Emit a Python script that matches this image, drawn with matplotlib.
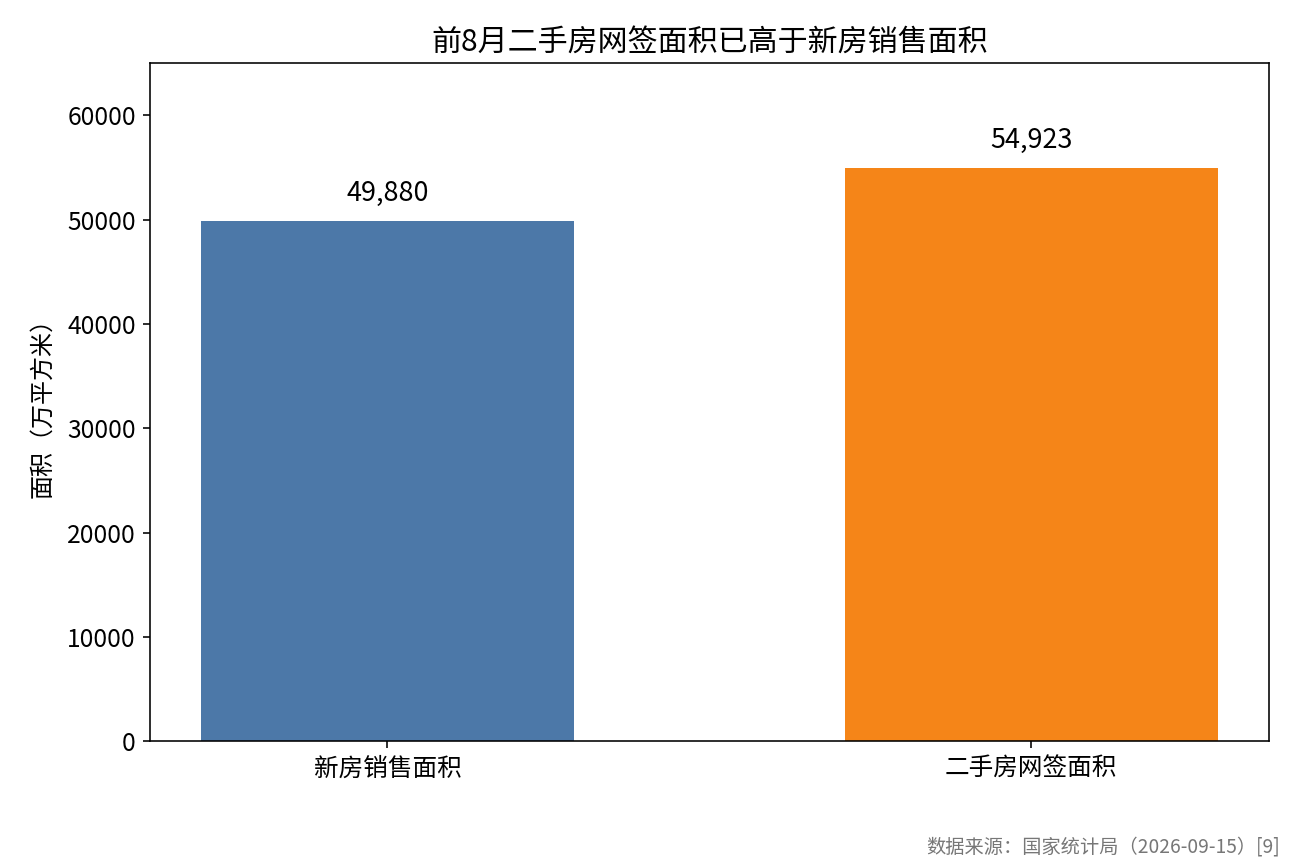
import matplotlib
matplotlib.use('Agg')
import matplotlib.pyplot as plt

plt.rcParams['font.family'] = ['Noto Sans CJK SC', 'DejaVu Sans']
plt.rcParams['axes.unicode_minus'] = False

categories = ['新房销售面积', '二手房网签面积']
values = [49880, 54923]
colors = ['#4C78A8', '#F58518']

fig, ax = plt.subplots(figsize=(9, 6), dpi=144)
fig.subplots_adjust(left=0.1157, right=0.979, top=0.927, bottom=0.142)

x = range(len(categories))
bars = ax.bar(x, values, width=0.58, color=colors)
for b, v in zip(bars, values):
    ax.annotate(f'{v:,}', (b.get_x() + b.get_width() / 2, v),
                xytext=(0, 7), textcoords='offset points',
                ha='center', va='bottom', fontsize=13.5)

ax.set_xticks(list(x))
ax.set_xticklabels(categories, fontsize=12.3)
ax.set_ylim(0, 65000)
ax.set_yticks(range(0, 60001, 10000))
ax.tick_params(axis='y', labelsize=12.3)
ax.set_ylabel('面积（万平方米）', fontsize=12, labelpad=6)
ax.set_title('前8月二手房网签面积已高于新房销售面积', fontsize=15)

fig.text(0.988, 0.007, '数据来源：国家统计局（2026-09-15）[9]', ha='right', va='bottom',
         fontsize=9.6, color='#777777')

fig.savefig('out.png', dpi=144)
